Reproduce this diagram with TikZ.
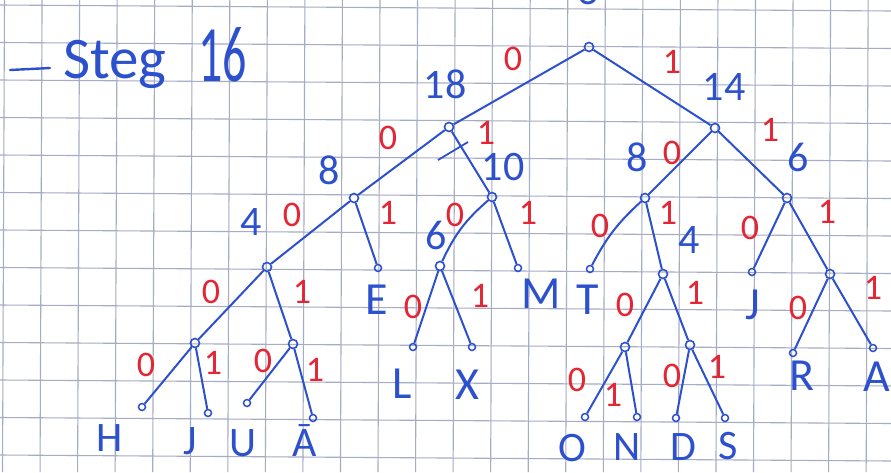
\documentclass[tikz,border=0pt]{standalone}
\usepackage{fontspec}
\setmainfont{Carlito}
\definecolor{ink}{RGB}{45,80,205}
\definecolor{redink}{RGB}{228,38,52}
\definecolor{gridc}{RGB}{165,172,196}
\begin{document}
\begin{tikzpicture}[x=1pt,y=-1pt,
 nd/.style={circle,draw=ink,line width=1.6pt,minimum size=9pt,inner sep=0pt},
 lf/.style={circle,draw=ink,line width=1.5pt,minimum size=7pt,inner sep=0pt},
 edge/.style={draw=ink,line width=2pt},
 bit/.style={text=redink,font=\fontsize{36}{38}\selectfont,inner sep=0pt},
 wt/.style={text=ink,font=\fontsize{42}{44}\selectfont,inner sep=0pt},
 sym/.style={text=ink,font=\fontsize{46}{48}\selectfont,inner sep=0pt},
 symlow/.style={text=ink,font=\fontsize{42}{44}\selectfont,inner sep=0pt}]
\fill[white] (0,0) rectangle (891,472);
\useasboundingbox (0,0) rectangle (891,472);
% grid paper
\foreach \k in {0,...,23} \draw[gridc,line width=1.1pt] ({4.5+37.55*\k},0) -- ({2.5+37.55*\k},472);
\foreach \k in {0,...,12} \draw[gridc,line width=1.1pt] (0,{5+37.5*\k}) -- (891,{11+37.5*\k});

% title
\coordinate (d1) at (10,70);
\coordinate (d2) at (50,68);
\draw[ink,line width=2.4pt,line cap=round] (d1) -- (d2);
\node[text=ink,font=\fontsize{59}{60}\selectfont,inner sep=0pt,anchor=base west] (steg) at (63,78) {Steg};
\node[text=ink,font=\fontsize{80}{80}\selectfont,inner sep=0pt,anchor=base west,xscale=0.6] (sixteen) at (198,81) {16};

% tree nodes
\node[nd] (root) at (589,47) {};
\node[nd] (n18) at (449,127) {};
\node[nd] (n14) at (715,128) {};
\node[nd] (n8) at (354,198) {};
\node[nd] (n10) at (492,197) {};
\node[nd] (n8b) at (645,198) {};
\node[nd] (n6b) at (787,198) {};
\node[nd] (n4) at (267,267) {};
\node[nd] (n6) at (440,266) {};
\node[nd] (n4b) at (663,274) {};
\node[nd] (n2c) at (830,274) {};
\node[nd] (n2a) at (195,343) {};
\node[nd] (n2b) at (293,344) {};
\node[nd] (n2d) at (625,347) {};
\node[nd] (n2e) at (690,345) {};
% leaves
\node[lf] (fE) at (378,268) {};
\node[lf] (fM) at (518,268) {};
\node[lf] (fT) at (590,269) {};
\node[lf] (fI) at (752,272) {};
\node[lf] (fL) at (413,347) {};
\node[lf] (fX) at (472,347) {};
\node[lf] (fR) at (793,353) {};
\node[lf] (fA) at (873,348) {};
\node[lf] (fH) at (142,407) {};
\node[lf] (fJ) at (208,413) {};
\node[lf] (fU) at (247,403) {};
\node[lf] (fAA) at (313,418) {};
\node[lf] (fO) at (585,417) {};
\node[lf] (fN) at (637,417) {};
\node[lf] (fD) at (676,418) {};
\node[lf] (fS) at (725,418) {};

% edges
\draw[edge] (root) -- (n18);
\draw[edge] (root) -- (n14);
\draw[edge] (n18) -- (n8);
\draw[edge] (n18) -- (n10);
\draw[edge] (n14) -- (n8b);
\draw[edge] (n14) -- (n6b);
\draw[edge] (n8) -- (n4);
\draw[edge] (n8) -- (fE);
\draw[edge] (n10) to[bend right=12] (n6);
\draw[edge] (n10) -- (fM);
\draw[edge] (n8b) to[bend right=10] (fT);
\draw[edge] (n8b) -- (n4b);
\draw[edge] (n6b) -- (fI);
\draw[edge] (n6b) -- (n2c);
\draw[edge] (n4) -- (n2a);
\draw[edge] (n4) -- (n2b);
\draw[edge] (n6) -- (fL);
\draw[edge] (n6) -- (fX);
\draw[edge] (n4b) -- (n2d);
\draw[edge] (n4b) -- (n2e);
\draw[edge] (n2c) -- (fR);
\draw[edge] (n2c) -- (fA);
\draw[edge] (n2a) -- (fH);
\draw[edge] (n2a) -- (fJ);
\draw[edge] (n2b) -- (fU);
\draw[edge] (n2b) -- (fAA);
\draw[edge] (n2d) -- (fO);
\draw[edge] (n2d) -- (fN);
\draw[edge] (n2e) -- (fD);
\draw[edge] (n2e) -- (fS);
% correction stroke near 18
\coordinate (c1) at (438,160);
\coordinate (c2) at (468,142);
\draw[ink,line width=1.8pt] (c1) -- (c2);

% weights
\node[wt,anchor=south] (w32) at (588,5) {3};
\node[wt] (w18) at (445,84) {18};
\node[wt] (w14) at (724,87) {14};
\node[wt] (w8) at (329,170) {8};
\node[wt] (w10) at (503,167) {10};
\node[wt] (w8b) at (637,157) {8};
\node[wt] (w6b) at (798,157) {6};
\node[wt] (w4) at (251,222) {4};
\node[wt] (w6) at (436,235) {6};
\node[wt] (w4b) at (689,240) {4};

% bits
\node[bit] (b1) at (513,59) {0};
\node[bit] (b2) at (672,62) {1};
\node[bit] (b3) at (388,138) {0};
\node[bit] (b4) at (486,133) {1};
\node[bit] (b5) at (672,153) {0};
\node[bit] (b6) at (770,130) {1};
\node[bit] (b7) at (292,215) {0};
\node[bit] (b8) at (388,213) {1};
\node[bit] (b9) at (455,215) {0};
\node[bit] (b10) at (528,213) {1};
\node[bit] (b11) at (600,226) {0};
\node[bit] (b12) at (668,213) {1};
\node[bit] (b13) at (750,228) {0};
\node[bit] (b14) at (827,212) {1};
\node[bit] (b15) at (211,292) {0};
\node[bit] (b16) at (302,292) {1};
\node[bit] (b17) at (413,307) {0};
\node[bit] (b18) at (480,296) {1};
\node[bit] (b19) at (625,305) {0};
\node[bit] (b20) at (695,293) {1};
\node[bit] (b21) at (798,308) {0};
\node[bit] (b22) at (873,288) {1};
\node[bit] (b23) at (146,365) {0};
\node[bit] (b24) at (213,363) {1};
\node[bit] (b25) at (263,361) {0};
\node[bit] (b26) at (315,370) {1};
\node[bit] (b27) at (577,380) {0};
\node[bit] (b28) at (613,395) {1};
\node[bit] (b29) at (672,376) {0};
\node[bit] (b30) at (717,367) {1};

% symbols
\node[sym] (sE) at (377,300) {E};
\node[sym] (sM) at (541,294) {M};
\node[sym] (sT) at (588,300) {T};
\node[sym] (sI) at (753,305) {J};
\node[sym] (sL) at (402,384) {L};
\node[sym] (sX) at (467,385) {X};
\node[sym] (sR) at (802,376) {R};
\node[sym] (sA) at (877,377) {A};
\node[symlow] (sH) at (110,438) {H};
\node[symlow] (sJ) at (190,441) {J};
\node[symlow] (sU) at (243,443) {U};
\node[symlow] (sAA) at (305,441) {Ā};
\node[symlow] (sO) at (572,448) {O};
\node[symlow] (sN) at (627,447) {N};
\node[symlow] (sD) at (683,447) {D};
\node[symlow] (sS) at (728,446) {S};
\end{tikzpicture}
\end{document}
